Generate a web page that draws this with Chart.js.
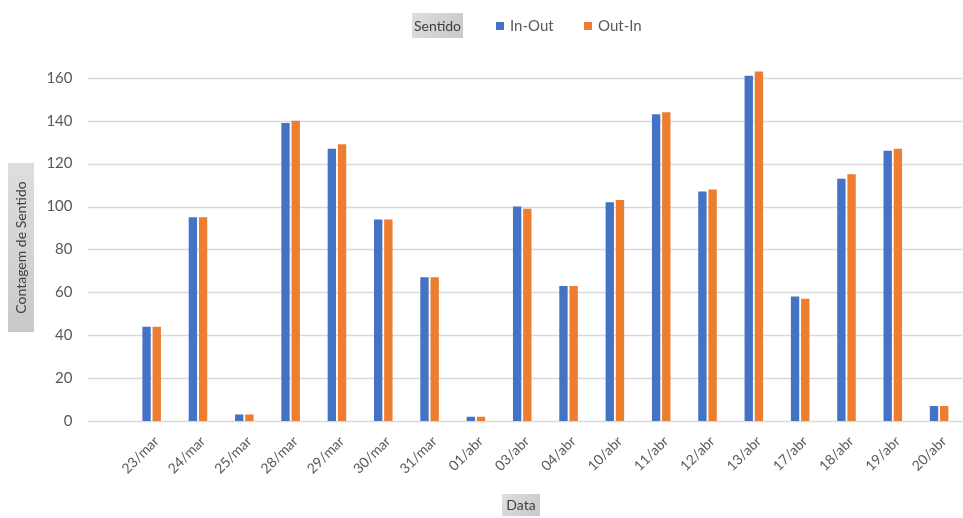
<!DOCTYPE html>
<html>
<head>
<meta charset="utf-8">
<title>Contagem de Sentido por Data</title>
<script src="https://cdn.jsdelivr.net/npm/chart.js@4/dist/chart.umd.min.js"></script>
<style>
  html, body { margin: 0; padding: 0; background: #ffffff; }
  canvas { display: block; }
</style>
</head>
<body>
<canvas id="chart" width="963" height="518"></canvas>
<script>
// Dates (categories)
const categories = ['23/mar', '24/mar', '25/mar', '28/mar', '29/mar', '30/mar', '31/mar',
  '01/abr', '03/abr', '04/abr', '10/abr', '11/abr', '12/abr', '13/abr', '17/abr',
  '18/abr', '19/abr', '20/abr'];

// Counts per direction
const inOut = [44, 95, 3, 139, 127, 94, 67, 2, 100, 63, 102, 143, 107, 161, 58, 113, 126, 7];
const outIn = [44, 95, 3, 140, 129, 94, 67, 2, 99, 63, 103, 144, 108, 163, 57, 115, 127, 7];

// Series names
const seriesNames = ['In-Out', 'Out-In'];

// Y axis tick values
const yTicks = [0, 20, 40, 60, 80, 100, 120, 140, 160];

// Text
const legendTitle = 'Sentido';
const xTitle = 'Data';
const yTitle = 'Contagem de Sentido';

const COLORS = ['#4472C4', '#ED7D31'];
const TEXT = '#595959';
const FONT = 'Lato, "Liberation Sans", sans-serif';

function greyBox(ctx, x, y, w, h) {
  const g = ctx.createLinearGradient(x, y, x + w, y + h);
  g.addColorStop(0, '#dedede');
  g.addColorStop(1, '#c9c9c9');
  ctx.fillStyle = g;
  ctx.fillRect(x, y, w, h);
}

// Horizontal grid lines, starting left of the plot area
const gridPlugin = {
  id: 'wideGrid',
  beforeDatasetsDraw(chart) {
    const { ctx, chartArea, scales } = chart;
    ctx.save();
    ctx.strokeStyle = '#d9d9d9';
    ctx.lineWidth = 1.5;
    yTicks.forEach(v => {
      const y = Math.round(scales.y.getPixelForValue(v)) + 0.5;
      ctx.beginPath();
      ctx.moveTo(88, y);
      ctx.lineTo(chartArea.right, y);
      ctx.stroke();
    });
    ctx.restore();
  }
};

// Axis titles in grey boxes and the legend row
const decorPlugin = {
  id: 'decor',
  afterDraw(chart) {
    const { ctx } = chart;
    ctx.save();
    ctx.textBaseline = 'middle';

    // Y axis title
    greyBox(ctx, 8, 163, 26, 169);
    ctx.save();
    ctx.translate(21.5, 247.5);
    ctx.rotate(-Math.PI / 2);
    ctx.fillStyle = '#404040';
    ctx.font = '14px ' + FONT;
    ctx.textAlign = 'center';
    ctx.fillText(yTitle, 0, 0);
    ctx.restore();

    // X axis title
    greyBox(ctx, 502, 494, 38, 22);
    ctx.fillStyle = '#404040';
    ctx.font = '14px ' + FONT;
    ctx.textAlign = 'center';
    ctx.fillText(xTitle, 521, 505.5);

    // Legend title
    greyBox(ctx, 412, 13, 51, 25);
    ctx.fillStyle = '#404040';
    ctx.fillText(legendTitle, 437.5, 26);

    // Legend entries
    const starts = [496, 584];
    ctx.textAlign = 'left';
    ctx.font = '15px ' + FONT;
    chart.data.datasets.forEach((ds, i) => {
      const x = starts[i];
      ctx.fillStyle = ds.backgroundColor;
      ctx.fillRect(x, 22, 8, 8);
      ctx.fillStyle = TEXT;
      ctx.fillText(ds.label, x + 14, 26.5);
    });
    ctx.restore();
  }
};

new Chart(document.getElementById('chart'), {
  type: 'bar',
  data: {
    labels: categories,
    datasets: [
      { label: seriesNames[0], data: inOut, backgroundColor: COLORS[0] },
      { label: seriesNames[1], data: outIn, backgroundColor: COLORS[1] }
    ]
  },
  options: {
    responsive: false,
    animation: false,
    devicePixelRatio: 1,
    layout: { padding: { top: 59, right: 0, bottom: 0, left: 0 } },
    datasets: {
      bar: { barPercentage: 0.82, categoryPercentage: 0.44 }
    },
    plugins: {
      legend: { display: false },
      title: { display: false },
      tooltip: { enabled: false }
    },
    scales: {
      x: {
        grid: { display: false, drawTicks: false },
        border: { display: false },
        ticks: {
          autoSkip: false,
          minRotation: 45,
          maxRotation: 45,
          padding: 12,
          labelOffset: 5,
          color: TEXT,
          font: { family: FONT, size: 14 }
        },
        afterFit(scale) { scale.height = 97; }
      },
      y: {
        min: 0,
        max: 166,
        grid: { display: false, drawTicks: false },
        border: { display: false },
        ticks: {
          stepSize: 20,
          includeBounds: false,
          padding: 56,
          color: TEXT,
          font: { family: FONT, size: 15 }
        },
        afterBuildTicks(scale) {
          scale.ticks = yTicks.map(v => ({ value: v }));
        },
        afterFit(scale) { scale.width = 128.5; }
      }
    }
  },
  plugins: [gridPlugin, decorPlugin]
});
</script>
</body>
</html>
